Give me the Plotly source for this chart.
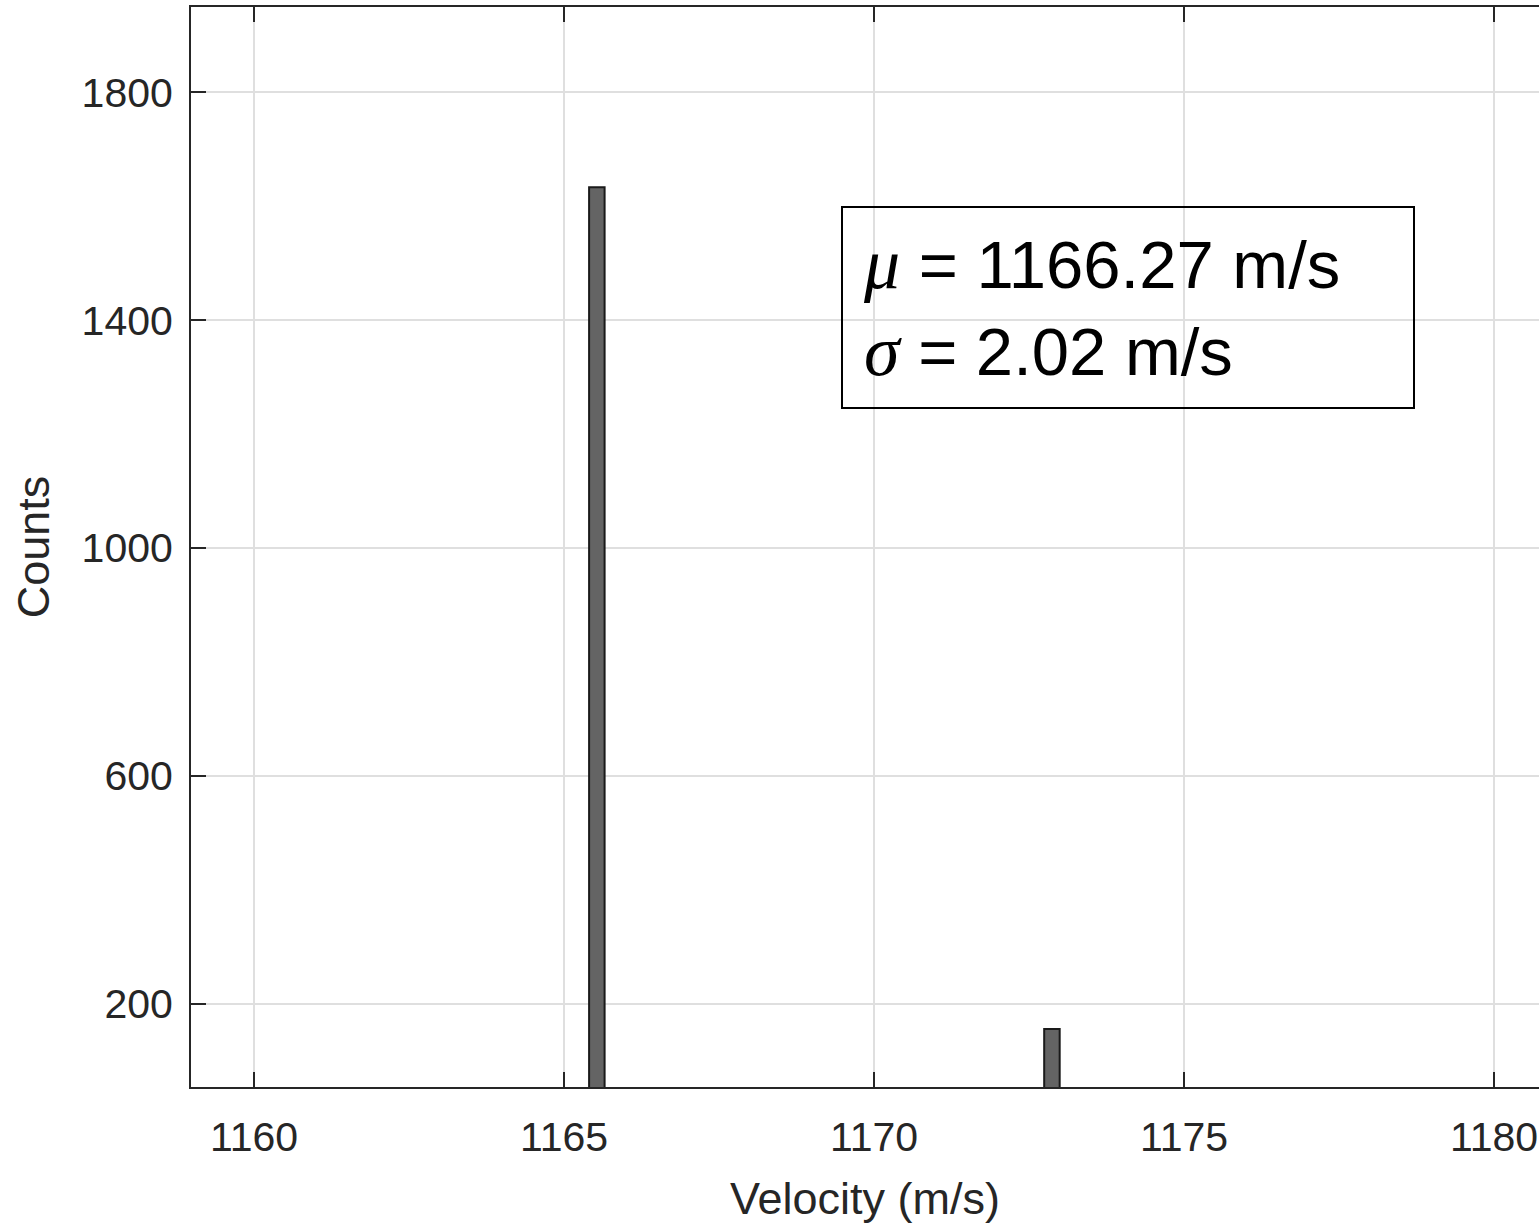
import plotly.graph_objects as go

# Histogram bins of measured velocity (bin centres in m/s) and their counts
bin_centers = [1165.53, 1172.87]
bin_counts = [1633, 156]
bin_width = 0.25

x_ticks = [1160, 1165, 1170, 1175, 1180]
y_ticks = [200, 600, 1000, 1400, 1800]

mean_velocity = 1166.27
std_velocity = 2.02

W, H = 1539, 1225
L, T, B, R = 191, 7, 138, 0
plot_w = W - L - R
plot_h = H - T - B

axis_color = "#262626"
grid_color = "#dfdfdf"
font_family = "Liberation Sans, Arial, sans-serif"

fig = go.Figure(
    go.Bar(
        x=bin_centers,
        y=bin_counts,
        width=bin_width,
        marker=dict(color="#646464", line=dict(color="#1a1a1a", width=2)),
    )
)

fig.update_layout(
    width=W,
    height=H,
    margin=dict(l=L, r=R, t=T, b=B, pad=0),
    paper_bgcolor="white",
    plot_bgcolor="white",
    showlegend=False,
    font=dict(family=font_family, color=axis_color),
)

fig.update_xaxes(
    range=[1158.984, 1180.726],
    tickvals=x_ticks,
    ticktext=[str(v) for v in x_ticks],
    ticks="inside",
    ticklen=15,
    tickwidth=2,
    tickcolor=axis_color,
    showline=True,
    linecolor=axis_color,
    linewidth=2,
    mirror="ticks",
    showgrid=True,
    gridcolor=grid_color,
    gridwidth=2,
    zeroline=False,
    tickfont=dict(size=41, color=axis_color),
    ticklabelstandoff=13,
    title=dict(text="Velocity (m/s)", font=dict(size=45, color=axis_color), standoff=23),
)

fig.update_yaxes(
    range=[54.4, 1949.5],
    tickvals=y_ticks,
    ticktext=[str(v) for v in y_ticks],
    ticks="inside",
    ticklen=15,
    tickwidth=2,
    tickcolor=axis_color,
    showline=True,
    linecolor=axis_color,
    linewidth=2,
    mirror=False,
    showgrid=True,
    gridcolor=grid_color,
    gridwidth=2,
    zeroline=False,
    tickfont=dict(size=41, color=axis_color),
    ticklabelstandoff=8,
    title=dict(text="Counts", font=dict(size=45, color=axis_color), standoff=18),
)

# Statistics text box (transparent, outlined)
def px_x(px):
    return (px - L) / plot_w

def px_y(py):
    return (T + plot_h - py) / plot_h

fig.add_shape(
    type="rect",
    xref="paper", yref="paper",
    x0=px_x(842), x1=px_x(1414), y0=px_y(408), y1=px_y(207),
    line=dict(color="black", width=2),
    fillcolor="rgba(0,0,0,0)",
    layer="above",
)

greek = ('<span style="font-family:Liberation Serif, Times New Roman, serif;'
         'font-size:72px"><i>{}</i></span>')
stats_text = (
    greek.format("μ") + f" = {mean_velocity:.2f} m/s<br>"
    + greek.format("σ") + f" = {std_velocity:.2f} m/s"
)
fig.add_annotation(
    xref="paper", yref="paper",
    x=px_x(861), y=px_y(308),
    xanchor="left", yanchor="middle",
    text=stats_text,
    showarrow=False,
    align="left",
    font=dict(size=67, color="black", family=font_family),
)

fig.write_html("out.html")
